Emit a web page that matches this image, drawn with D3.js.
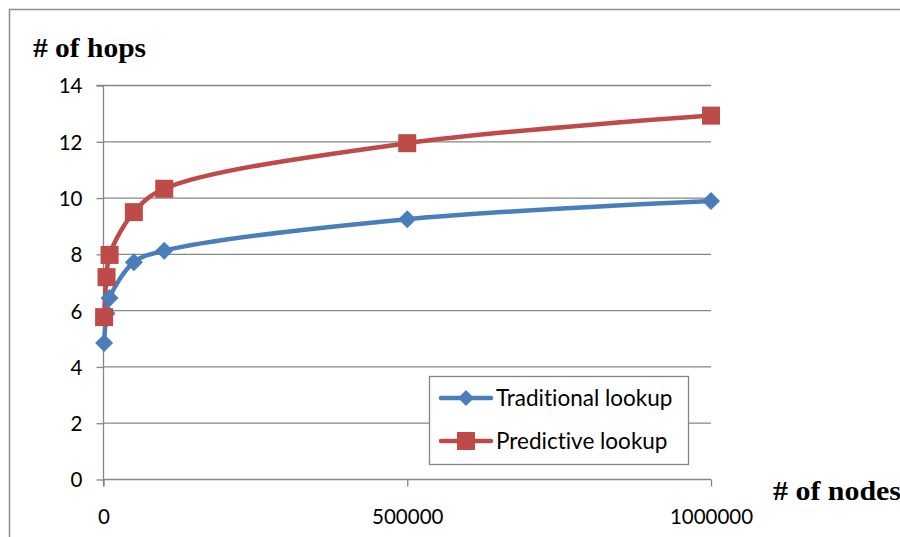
<!DOCTYPE html>
<html><head><meta charset="utf-8">
<script src="https://cdn.jsdelivr.net/npm/d3@7"></script>
<style>body{margin:0;background:#fff;}svg{display:block;}text{font-variant-ligatures:none;font-feature-settings:"liga" 0,"clig" 0;}</style>
</head><body>
<script>
const nodes = [1000, 5000, 10000, 50000, 100000, 500000, 1000000];
const traditional = [4.85, 5.9, 6.45, 7.72, 8.13, 9.25, 9.9];
const predictive = [5.77, 7.19, 7.98, 9.5, 10.33, 11.95, 12.93];
const yTicks = [0, 2, 4, 6, 8, 10, 12, 14];
const xTicks = [0, 500000, 1000000];
const seriesNames = ["Traditional lookup", "Predictive lookup"];
const colors = ["#4A7EBB", "#BE4B48"];

const W = 900, H = 537;
const svg = d3.select("body").append("svg").attr("width", W).attr("height", H);
svg.append("rect").attr("x", 9.5).attr("y", 9.5).attr("width", 1000).attr("height", 1000)
  .attr("fill", "#fff").attr("stroke", "#8c8c8c").attr("stroke-width", 1.5);

const x = d3.scaleLinear().domain([0, 1000000]).range([103.5, 711]);
const y = d3.scaleLinear().domain([0, 14]).range([479.5, 85.5]);
const labelFont = "Lato, 'Open Sans', sans-serif";

// gridlines
svg.append("g").selectAll("line").data(yTicks.filter(d => d > 0)).join("line")
  .attr("x1", x(0)).attr("x2", 711).attr("y1", d => y(d)).attr("y2", d => y(d))
  .attr("stroke", "#868686").attr("stroke-width", 1.3);

// y axis
const yAxis = svg.append("g").attr("transform", `translate(${x(0)},0)`)
  .call(d3.axisLeft(y).tickValues(yTicks).tickSize(7).tickPadding(14));
yAxis.select(".domain").attr("stroke", "#868686").attr("stroke-width", 1.3).attr("d", `M-7,${y(14)}H0V${y(0)+7}`);
yAxis.selectAll(".tick line").attr("stroke", "#868686").attr("stroke-width", 1.3);
yAxis.selectAll("text").attr("font-family", labelFont).attr("font-size", 20.5).attr("fill", "#000").attr("dy", "0.36em");

// x axis
const xAxis = svg.append("g").attr("transform", `translate(0,${y(0)})`)
  .call(d3.axisBottom(x).tickValues(xTicks).tickSize(7).tickPadding(23).tickFormat(d3.format("d")));
xAxis.select(".domain").attr("stroke", "#868686").attr("stroke-width", 1.3).attr("d", `M${x(0)},0H711`);
xAxis.selectAll(".tick line").attr("stroke", "#868686").attr("stroke-width", 1.3);
xAxis.selectAll("text").attr("font-family", labelFont).attr("font-size", 20.5).attr("fill", "#000");

// axis titles
svg.append("text").attr("x", 33).attr("y", 57).text("# of hops")
  .attr("textLength", 113).attr("lengthAdjust", "spacingAndGlyphs")
  .attr("font-family", "'Liberation Serif', serif").attr("font-weight", "bold").attr("font-size", 27);
svg.append("text").attr("x", 773).attr("y", 500).text("# of nodes")
  .attr("textLength", 128).attr("lengthAdjust", "spacingAndGlyphs")
  .attr("font-family", "'Liberation Serif', serif").attr("font-weight", "bold").attr("font-size", 27);

const line = d3.line().x(d => x(d[0])).y(d => y(d[1])).curve(d3.curveCatmullRom.alpha(0.5));
const allSeries = [traditional, predictive];
const diamond = s => `M0,${-s}L${s},0L0,${s}L${-s},0Z`;

allSeries.forEach((vals, i) => {
  const pts = nodes.map((n, j) => [n, vals[j]]);
  svg.append("path").datum(pts).attr("d", line).attr("fill", "none")
    .attr("stroke", colors[i]).attr("stroke-width", 4.5).attr("stroke-linejoin", "round");
});
allSeries.forEach((vals, i) => {
  const g = svg.append("g");
  nodes.forEach((n, j) => {
    if (i === 0) {
      g.append("path").attr("d", diamond(9)).attr("transform", `translate(${x(n)},${y(vals[j])})`).attr("fill", colors[i]);
    } else {
      g.append("rect").attr("x", x(n) - 9).attr("y", y(vals[j]) - 9).attr("width", 18).attr("height", 18).attr("fill", colors[i]);
    }
  });
});

// legend
const lg = svg.append("g");
lg.append("rect").attr("x", 429.5).attr("y", 376.5).attr("width", 259).attr("height", 88)
  .attr("fill", "#fff").attr("stroke", "#868686").attr("stroke-width", 1.3);
seriesNames.forEach((name, i) => {
  const cy = 398 + i * 43;
  lg.append("line").attr("x1", 441).attr("x2", 491).attr("y1", cy).attr("y2", cy)
    .attr("stroke", colors[i]).attr("stroke-width", 4.5).attr("stroke-linecap", "round");
  if (i === 0) lg.append("path").attr("d", diamond(8)).attr("transform", `translate(466,${cy})`).attr("fill", colors[i]);
  else lg.append("rect").attr("x", 457).attr("y", cy - 9).attr("width", 18).attr("height", 18).attr("fill", colors[i]);
  lg.append("text").attr("x", 496).attr("y", cy).attr("dy", "0.36em").text(name)
    .attr("font-family", labelFont).attr("font-size", 22.5).attr("fill", "#000");
});
</script>
</body></html>
